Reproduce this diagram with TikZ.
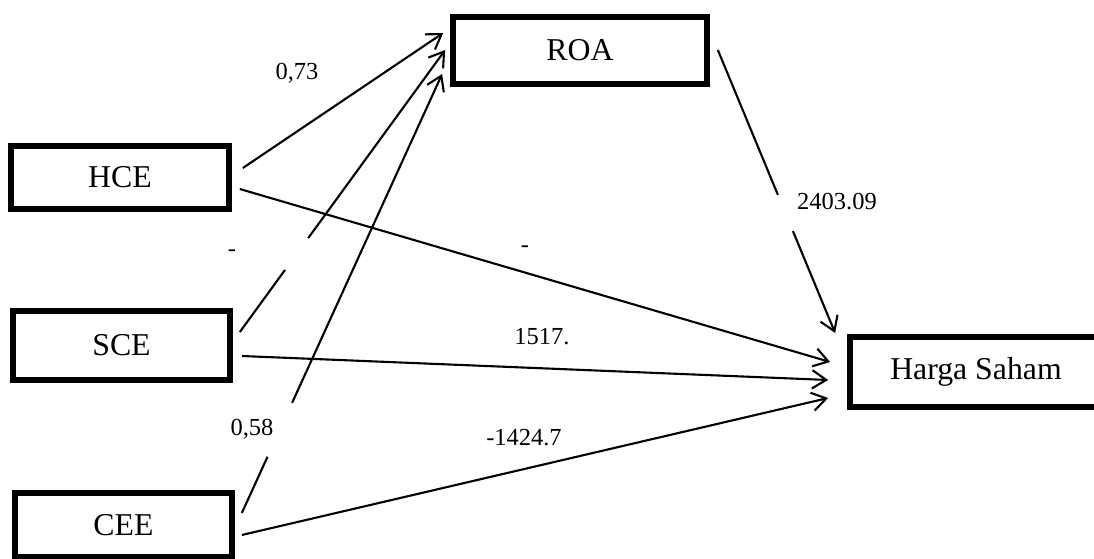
\documentclass[tikz,border=0pt]{standalone}
\usepackage{fontspec}
\setmainfont{Liberation Serif}
\usetikzlibrary{arrows.meta,calc}

\begin{document}
\begin{tikzpicture}[x=0.025cm, y=-0.025cm,
  box/.style={rectangle, draw=black, line width=4pt, fill=white, inner sep=0,
    font=\fontsize{22.6}{26}\selectfont},
  link/.style={line width=1.5pt, -{Straight Barb[length=10pt, width=13pt]}},
  weight/.style={inner sep=0, font=\fontsize{17.4}{20}\selectfont}]
  \useasboundingbox (0,0) rectangle (1094,559);
  \clip (0,0) rectangle (1094,559);

  \node[box,
    minimum width = 5.45cm,
    minimum height = 1.575cm] (hce) at (120,177.5) {HCE};
  \node[box,
    minimum width = 5.425cm,
    minimum height = 1.725cm] (sce) at (121.5,345.5) {SCE};
  \node[box,
    minimum width = 5.425cm,
    minimum height = 1.6cm] (cee) at (123.5,525) {CEE};
  \node[box,
    minimum width = 6.35cm,
    minimum height = 1.675cm] (roa) at (580,50.5) {ROA};
  \node[box,
    minimum width = 6.3cm,
    minimum height = 1.75cm] (harga) at (976,372) {Harga Saham};

  \draw[link] ([shift={(11,-9.5)}]hce.east) -- ([shift={(-7,-17.5)}]roa.west);
  \draw[link] ([shift={(8,11.5)}]hce.east) -- ([shift={(-17,-10)}]harga.west);
  \draw[link] ([shift={(9,10.5)}]sce.east) -- ([shift={(-19,8)}]harga.west);
  \draw[link] ([shift={(7,10)}]cee.east) -- ([shift={(-19,26)}]harga.west);

  \coordinate (sce-roa-a) at ([shift={(7,-13.5)}]sce.east);
  \coordinate (sce-roa-b) at ([shift={(-5,-0.5)}]roa.west);
  \draw[link] (sce-roa-a) -- ($(sce-roa-a)!0.22!(sce-roa-b)$)
    ($(sce-roa-a)!0.333!(sce-roa-b)$) -- (sce-roa-b);

  \coordinate (cee-roa-a) at ([shift={(7,-12)}]cee.east);
  \coordinate (cee-roa-b) at ([shift={(-8,23.5)}]roa.west);
  \draw[link] (cee-roa-a) -- ($(cee-roa-a)!0.128!(cee-roa-b)$)
    ($(cee-roa-a)!0.251!(cee-roa-b)$) -- (cee-roa-b);

  \coordinate (roa-harga-a) at ([shift={(8,-0.5)}]roa.east);
  \coordinate (roa-harga-b) at ([shift={(-12,-39)}]harga.west);
  \draw[link] (roa-harga-a) -- ($(roa-harga-a)!0.512!(roa-harga-b)$)
    ($(roa-harga-a)!0.64!(roa-harga-b)$) -- (roa-harga-b);

  \node[weight] (w-hce-roa) at (297,73) {0,73};
  \node[weight] (w-sce-roa) at (232,253) {-};
  \node[weight] (w-cee-roa) at (252,429) {0,58};
  \node[weight] (w-hce-harga) at (525,249) {-};
  \node[weight] (w-sce-harga) at (542,337) {1517.};
  \node[weight] (w-cee-harga) at (524,438) {-1424.7};
  \node[weight] (w-roa-harga) at (837,202) {2403.09};
\end{tikzpicture}
\end{document}
